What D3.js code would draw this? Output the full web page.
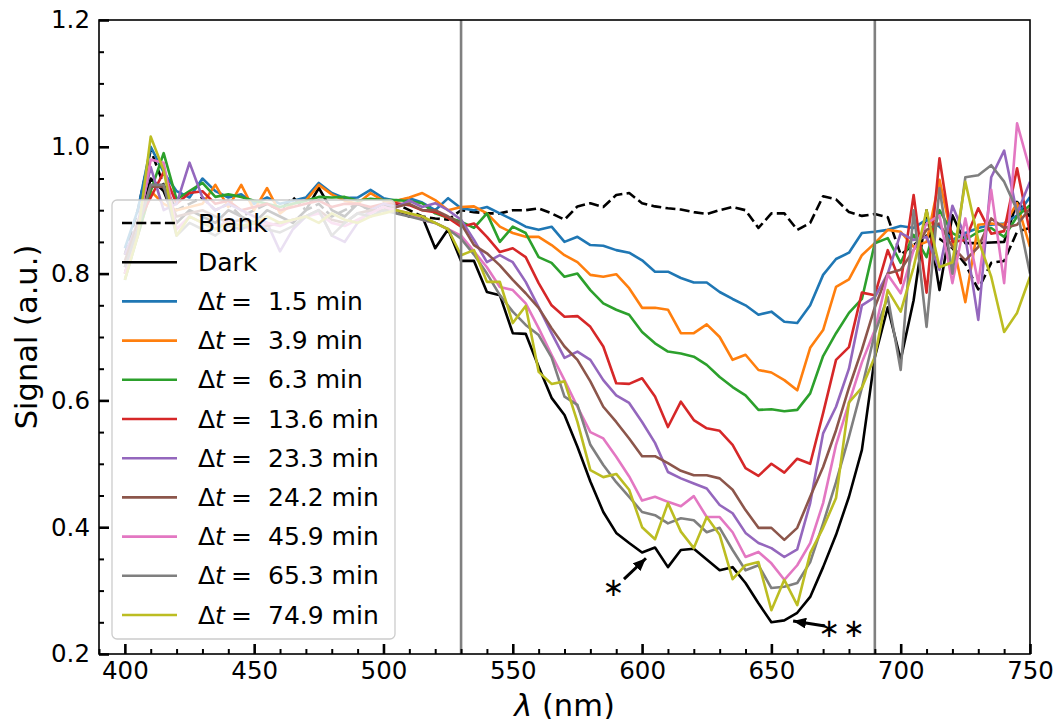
<!DOCTYPE html>
<html>
<head>
<meta charset="utf-8">
<script src="https://cdn.jsdelivr.net/npm/d3@7"></script>
<style>
  body { margin: 0; background: #fff; }
  svg { font-family: "DejaVu Sans", sans-serif; }
</style>
</head>
<body>
<svg id="chart" width="1057" height="719"></svg>
<script>
// wavelength grid (nm)
const wavelengths = [
  400, 405, 410, 415, 420, 425, 430, 435, 440, 445,
  450, 455, 460, 465, 470, 475, 480, 485, 490, 495,
  500, 505, 510, 515, 520, 525, 530, 535, 540, 545,
  550, 555, 560, 565, 570, 575, 580, 585, 590, 595,
  600, 605, 610, 615, 620, 625, 630, 635, 640, 645,
  650, 655, 660, 665, 670, 675, 680, 685, 690, 695,
  700, 705, 710, 715, 720, 725, 730, 735, 740, 745, 750
];

const signalBlank = [
  0.83, 0.90, 0.995, 0.94, 0.90, 0.91, 0.92, 0.90, 0.91, 0.89,
  0.90, 0.91, 0.90, 0.92, 0.90, 0.91, 0.89, 0.90, 0.91, 0.90,
  0.90, 0.91, 0.90, 0.89, 0.887, 0.885, 0.900, 0.897, 0.895, 0.895,
  0.900, 0.900, 0.903, 0.895, 0.885, 0.906, 0.911, 0.905, 0.924, 0.927,
  0.911, 0.906, 0.903, 0.901, 0.897, 0.894, 0.900, 0.905, 0.900, 0.872,
  0.895, 0.895, 0.869, 0.880, 0.922, 0.917, 0.897, 0.891, 0.894, 0.889,
  0.830, 0.845, 0.860, 0.855, 0.840, 0.815, 0.775, 0.817, 0.820, 0.866, 0.872
];

const signalDark = [
  0.80, 0.87, 0.95, 0.93, 0.88, 0.90, 0.89, 0.88, 0.90, 0.89,
  0.88, 0.90, 0.89, 0.88, 0.90, 0.935, 0.90, 0.89, 0.91, 0.90,
  0.91, 0.90, 0.89, 0.89, 0.84, 0.87, 0.82, 0.82, 0.771, 0.766,
  0.706, 0.705, 0.653, 0.604, 0.577, 0.527, 0.472, 0.424, 0.391, 0.375,
  0.360, 0.368, 0.337, 0.364, 0.366, 0.349, 0.332, 0.337, 0.312, 0.280,
  0.250, 0.253, 0.265, 0.290, 0.337, 0.388, 0.448, 0.522, 0.668, 0.747,
  0.664, 0.758, 0.900, 0.774, 0.892, 0.848, 0.848, 0.849, 0.850, 0.913, 0.890
];

const signal1_5 = [
  0.84, 0.90, 1.00, 0.96, 0.93, 0.92, 0.95, 0.93, 0.92, 0.925,
  0.91, 0.92, 0.91, 0.915, 0.92, 0.943, 0.927, 0.919, 0.92, 0.932,
  0.919, 0.915, 0.919, 0.912, 0.900, 0.919, 0.903, 0.900, 0.905, 0.895,
  0.885, 0.874, 0.869, 0.874, 0.850, 0.858, 0.845, 0.844, 0.837, 0.833,
  0.821, 0.803, 0.803, 0.793, 0.786, 0.786, 0.771, 0.760, 0.750, 0.735,
  0.740, 0.724, 0.722, 0.750, 0.798, 0.823, 0.833, 0.864, 0.866, 0.869,
  0.875, 0.872, 0.885, 0.874, 0.853, 0.864, 0.872, 0.877, 0.879, 0.892, 0.921
];

const signal3_9 = [
  0.80, 0.86, 0.93, 0.91, 0.90, 0.905, 0.91, 0.94, 0.905, 0.94,
  0.90, 0.935, 0.895, 0.91, 0.915, 0.94, 0.925, 0.915, 0.91, 0.927,
  0.915, 0.915, 0.92, 0.927, 0.916, 0.900, 0.905, 0.906, 0.895, 0.874,
  0.864, 0.858, 0.858, 0.845, 0.829, 0.818, 0.798, 0.795, 0.799, 0.777,
  0.746, 0.746, 0.743, 0.706, 0.706, 0.720, 0.700, 0.664, 0.672, 0.648,
  0.644, 0.632, 0.616, 0.683, 0.711, 0.779, 0.791, 0.829, 0.848, 0.869,
  0.866, 0.842, 0.850, 0.948, 0.853, 0.755, 0.877, 0.879, 0.877, 0.911, 0.842
];

const signal6_3 = [
  0.79, 0.86, 0.93, 0.99, 0.917, 0.93, 0.943, 0.921, 0.925, 0.921,
  0.915, 0.91, 0.905, 0.91, 0.915, 0.921, 0.92, 0.921, 0.915, 0.918,
  0.916, 0.916, 0.914, 0.911, 0.895, 0.888, 0.882, 0.872, 0.895, 0.850,
  0.874, 0.864, 0.826, 0.817, 0.795, 0.800, 0.774, 0.753, 0.743, 0.735,
  0.708, 0.690, 0.677, 0.674, 0.669, 0.656, 0.637, 0.621, 0.608, 0.585,
  0.586, 0.583, 0.585, 0.611, 0.670, 0.706, 0.738, 0.760, 0.848, 0.856,
  0.817, 0.861, 0.826, 0.900, 0.864, 0.853, 0.866, 0.872, 0.858, 0.890, 0.908
];

const signal13_6 = [
  0.81, 0.88, 0.92, 0.96, 0.91, 0.927, 0.93, 0.91, 0.915, 0.90,
  0.905, 0.91, 0.90, 0.905, 0.91, 0.915, 0.905, 0.91, 0.91, 0.905,
  0.91, 0.911, 0.908, 0.900, 0.897, 0.888, 0.874, 0.879, 0.858, 0.834,
  0.840, 0.826, 0.785, 0.750, 0.732, 0.733, 0.716, 0.685, 0.627, 0.626,
  0.635, 0.606, 0.558, 0.598, 0.569, 0.556, 0.552, 0.530, 0.493, 0.481,
  0.500, 0.486, 0.508, 0.500, 0.580, 0.664, 0.684, 0.770, 0.766, 0.837,
  0.785, 0.924, 0.770, 0.982, 0.850, 0.853, 0.903, 0.863, 0.867, 0.966, 0.864
];

const signal23_3 = [
  0.83, 0.88, 0.968, 0.90, 0.91, 0.975, 0.92, 0.90, 0.91, 0.90,
  0.89, 0.88, 0.835, 0.87, 0.89, 0.90, 0.86, 0.85, 0.88, 0.90,
  0.91, 0.905, 0.915, 0.905, 0.911, 0.900, 0.885, 0.853, 0.818, 0.829,
  0.818, 0.787, 0.747, 0.706, 0.667, 0.677, 0.664, 0.632, 0.608, 0.596,
  0.566, 0.533, 0.487, 0.477, 0.469, 0.461, 0.435, 0.422, 0.391, 0.375,
  0.367, 0.353, 0.365, 0.438, 0.548, 0.590, 0.650, 0.750, 0.763, 0.800,
  0.864, 0.853, 0.858, 0.806, 0.907, 0.858, 0.727, 0.952, 0.994, 0.895, 0.945
];

const signal24_2 = [
  0.82, 0.88, 0.937, 0.937, 0.89, 0.895, 0.90, 0.89, 0.88, 0.885,
  0.88, 0.875, 0.88, 0.885, 0.89, 0.90, 0.885, 0.88, 0.895, 0.90,
  0.90, 0.905, 0.91, 0.90, 0.90, 0.89, 0.879, 0.845, 0.832, 0.813,
  0.790, 0.769, 0.746, 0.714, 0.685, 0.664, 0.630, 0.590, 0.566, 0.540,
  0.512, 0.512, 0.501, 0.489, 0.482, 0.482, 0.477, 0.459, 0.427, 0.399,
  0.399, 0.380, 0.399, 0.448, 0.495, 0.553, 0.620, 0.680, 0.747, 0.800,
  0.806, 0.837, 0.869, 0.879, 0.842, 0.821, 0.842, 0.887, 0.872, 0.877, 0.903
];

const signal45_9 = [
  0.80, 0.87, 0.98, 0.975, 0.87, 0.89, 0.88, 0.87, 0.885, 0.875,
  0.87, 0.88, 0.875, 0.885, 0.89, 0.895, 0.88, 0.875, 0.885, 0.895,
  0.905, 0.90, 0.895, 0.885, 0.88, 0.87, 0.86, 0.835, 0.810, 0.779,
  0.774, 0.753, 0.714, 0.672, 0.632, 0.590, 0.550, 0.540, 0.511, 0.480,
  0.442, 0.448, 0.440, 0.433, 0.449, 0.416, 0.416, 0.392, 0.353, 0.361,
  0.343, 0.317, 0.340, 0.375, 0.438, 0.530, 0.596, 0.660, 0.711, 0.798,
  0.769, 0.837, 0.879, 0.892, 0.785, 0.887, 0.785, 0.932, 0.785, 1.037, 0.963
];

const signal65_3 = [
  0.81, 0.87, 0.94, 0.94, 0.86, 0.88, 0.87, 0.86, 0.875, 0.87,
  0.88, 0.87, 0.865, 0.875, 0.89, 0.90, 0.86, 0.88, 0.895, 0.89,
  0.90, 0.895, 0.89, 0.885, 0.88, 0.87, 0.855, 0.83, 0.80, 0.766,
  0.740, 0.719, 0.703, 0.668, 0.606, 0.593, 0.530, 0.498, 0.471, 0.448,
  0.424, 0.419, 0.406, 0.414, 0.411, 0.392, 0.399, 0.364, 0.332, 0.340,
  0.304, 0.306, 0.312, 0.345, 0.406, 0.471, 0.543, 0.620, 0.706, 0.763,
  0.648, 0.900, 0.716, 0.935, 0.800, 0.952, 0.955, 0.971, 0.945, 0.900, 0.800
];

const signal74_9 = [
  0.79, 0.86, 1.016, 0.963, 0.86, 0.89, 0.88, 0.87, 0.88, 0.875,
  0.88, 0.89, 0.88, 0.885, 0.89, 0.88, 0.895, 0.885, 0.88, 0.89,
  0.895, 0.90, 0.895, 0.89, 0.88, 0.87, 0.829, 0.837, 0.787, 0.787,
  0.722, 0.749, 0.645, 0.626, 0.630, 0.566, 0.490, 0.479, 0.484, 0.459,
  0.400, 0.381, 0.438, 0.393, 0.367, 0.416, 0.388, 0.318, 0.340, 0.345,
  0.269, 0.317, 0.277, 0.359, 0.399, 0.446, 0.597, 0.620, 0.669, 0.774,
  0.740, 0.810, 0.900, 0.810, 0.818, 0.945, 0.853, 0.795, 0.708, 0.738, 0.795
];

const seriesValues = [signalBlank, signalDark, signal1_5, signal3_9, signal6_3,
  signal13_6, signal23_3, signal24_2, signal45_9, signal65_3, signal74_9];
const seriesNames = ["Blank", "Dark", "1.5", "3.9", "6.3", "13.6", "23.3",
  "24.2", "45.9", "65.3", "74.9"];
const seriesColors = ["#000000", "#000000", "#1f77b4", "#ff7f0e", "#2ca02c",
  "#d62728", "#9467bd", "#8c564b", "#e377c2", "#7f7f7f", "#bcbd22"];
const seriesDashed = [true, false, false, false, false, false, false, false, false, false, false];

// markers for the analysis window
const windowLines = [530, 690];

// annotations: text position, arrow tail, arrow head (data units)
const noteTexts = ["\u2217", "\u2217\u2217"];
const noteX = [589.5, 677.7];
const noteY = [0.306, 0.241];
const arrowTailX = [593.0, 670.7];
const arrowTailY = [0.318, 0.244];
const arrowHeadX = [601.5, 658.4];
const arrowHeadY = [0.351, 0.252];

const xMajor = [400, 450, 500, 550, 600, 650, 700, 750];
const yMajor = [0.2, 0.4, 0.6, 0.8, 1.0, 1.2];

const plot = { left: 99, right: 1030, top: 20, bottom: 654 };

const svg = d3.select("#chart");

const x = d3.scaleLinear().domain([390, 750]).range([plot.left, plot.right]);
const y = d3.scaleLinear().domain([0.2, 1.2]).range([plot.bottom, plot.top]);

svg.append("defs").append("clipPath").attr("id", "clip")
  .append("rect")
  .attr("x", plot.left).attr("y", plot.top)
  .attr("width", plot.right - plot.left).attr("height", plot.bottom - plot.top);

const g = {
  lines: svg.append("g").attr("clip-path", "url(#clip)"),
  marks: svg.append("g"),
  axes: svg.append("g"),
  notes: svg.append("g"),
  legend: svg.append("g")
};

drawLines();
drawWindow();
drawAxes();
drawNotes();
drawLegend();

function drawLines() {
  const line = d3.line()
    .x((d, i) => x(wavelengths[i]))
    .y(d => y(d));

  g.lines.selectAll("path.series")
    .data(seriesValues)
    .enter()
    .append("path")
    .attr("class", "series")
    .attr("d", line)
    .attr("fill", "none")
    .attr("stroke", (d, i) => seriesColors[i])
    .attr("stroke-width", 2.6)
    .attr("stroke-linejoin", "round")
    .attr("stroke-dasharray", (d, i) => seriesDashed[i] ? "10,4.3" : null);
}

function drawWindow() {
  g.marks.selectAll("line.window")
    .data(windowLines)
    .enter()
    .append("line")
    .attr("class", "window")
    .attr("x1", d => x(d)).attr("x2", d => x(d))
    .attr("y1", plot.top).attr("y2", plot.bottom)
    .attr("stroke", "#808080")
    .attr("stroke-width", 2.6);
}

function drawAxes() {
  const xMinor = d3.range(390, 751, 10).filter(v => xMajor.indexOf(v) < 0);
  const yMinor = d3.range(0.25, 1.2, 0.05).filter(v => yMajor.every(m => Math.abs(m - v) > 1e-6));

  const xAxis = d3.axisBottom(x).tickValues(xMajor).tickSize(-10).tickPadding(8)
    .tickFormat(d3.format("d"));
  const xAxisMinor = d3.axisBottom(x).tickValues(xMinor).tickSize(-5).tickFormat("");
  const yAxis = d3.axisLeft(y).tickValues(yMajor).tickSize(-10).tickPadding(9)
    .tickFormat(d3.format(".1f"));
  const yAxisMinor = d3.axisLeft(y).tickValues(yMinor).tickSize(-5).tickFormat("");

  const gx = g.axes.append("g").attr("transform", translate(0, plot.bottom)).call(xAxis);
  const gxm = g.axes.append("g").attr("transform", translate(0, plot.bottom)).call(xAxisMinor);
  const gy = g.axes.append("g").attr("transform", translate(plot.left, 0)).call(yAxis);
  const gym = g.axes.append("g").attr("transform", translate(plot.left, 0)).call(yAxisMinor);

  [gx, gxm, gy, gym].forEach(a => {
    a.select(".domain").remove();
    a.selectAll("text")
      .attr("fill", "#000")
      .style("font-family", "DejaVu Sans")
      .style("font-size", "24.5px");
  });
  gx.selectAll("line").attr("stroke", "#000").attr("stroke-width", 2.6);
  gy.selectAll("line").attr("stroke", "#000").attr("stroke-width", 2.6);
  gxm.selectAll("line").attr("stroke", "#000").attr("stroke-width", 2);
  gym.selectAll("line").attr("stroke", "#000").attr("stroke-width", 2);

  // frame
  g.axes.append("rect")
    .attr("x", plot.left).attr("y", plot.top)
    .attr("width", plot.right - plot.left).attr("height", plot.bottom - plot.top)
    .attr("fill", "none")
    .attr("stroke", "#000")
    .attr("stroke-width", 1.6);

  // axis titles
  const xt = g.axes.append("text")
    .attr("x", (plot.left + plot.right) / 2)
    .attr("y", 716)
    .attr("text-anchor", "middle")
    .style("font-size", "30.5px");
  xt.append("tspan").style("font-style", "italic").text("λ");
  xt.append("tspan").text(" (nm)");

  g.axes.append("text")
    .attr("transform", translate(37, (plot.top + plot.bottom) / 2) + " rotate(-90)")
    .attr("text-anchor", "middle")
    .style("font-size", "30.5px")
    .text("Signal (a.u.)");
}

function drawNotes() {
  svg.select("defs").append("marker")
    .attr("id", "head")
    .attr("markerUnits", "userSpaceOnUse")
    .attr("viewBox", "0 0 13 11")
    .attr("refX", 13).attr("refY", 5.5)
    .attr("markerWidth", 13).attr("markerHeight", 11)
    .attr("orient", "auto")
    .append("path")
    .attr("d", "M0,0 L13,5.5 L0,11 Z")
    .attr("fill", "#000");

  noteTexts.forEach((t, i) => {
    g.notes.append("line")
      .attr("x1", x(arrowTailX[i])).attr("y1", y(arrowTailY[i]))
      .attr("x2", x(arrowHeadX[i])).attr("y2", y(arrowHeadY[i]))
      .attr("stroke", "#000")
      .attr("stroke-width", 3)
      .attr("marker-end", "url(#head)");

    g.notes.append("text")
      .attr("x", x(noteX[i]))
      .attr("y", y(noteY[i]) + 9)
      .attr("text-anchor", "middle")
      .style("font-size", "26px")
      .style("letter-spacing", "3px")
      .text(t);
  });
}

function drawLegend() {
  g.legend.append("rect")
    .attr("x", 112).attr("y", 200)
    .attr("width", 283).attr("height", 439)
    .attr("rx", 5)
    .attr("fill", "#fff")
    .attr("fill-opacity", 0.8)
    .attr("stroke", "#cccccc")
    .attr("stroke-width", 1.3);

  const rows = g.legend.selectAll("g.row")
    .data(seriesNames)
    .enter()
    .append("g")
    .attr("class", "row")
    .attr("transform", (d, i) => translate(0, 223 + i * 39.2));

  rows.append("line")
    .attr("x1", 122).attr("x2", 177)
    .attr("stroke", (d, i) => seriesColors[i])
    .attr("stroke-width", 2.6)
    .attr("stroke-dasharray", (d, i) => seriesDashed[i] ? "10,4.3" : null);

  rows.each(function(d, i) {
    const label = d3.select(this).append("text")
      .attr("x", 198).attr("y", 8.5)
      .style("font-size", "25px")
      .style("white-space", "pre");
    if (i < 2) {
      label.text(d);
    } else {
      label.append("tspan").text("Δ");
      label.append("tspan").style("font-style", "italic").text("t");
      label.append("tspan").attr("x", 231).text("=");
      label.append("tspan").attr("x", 268).text(d + " min");
    }
  });
}

function translate(x, y) {
  return "translate(" + String(x) + "," + String(y) + ")";
}
</script>
</body>
</html>
